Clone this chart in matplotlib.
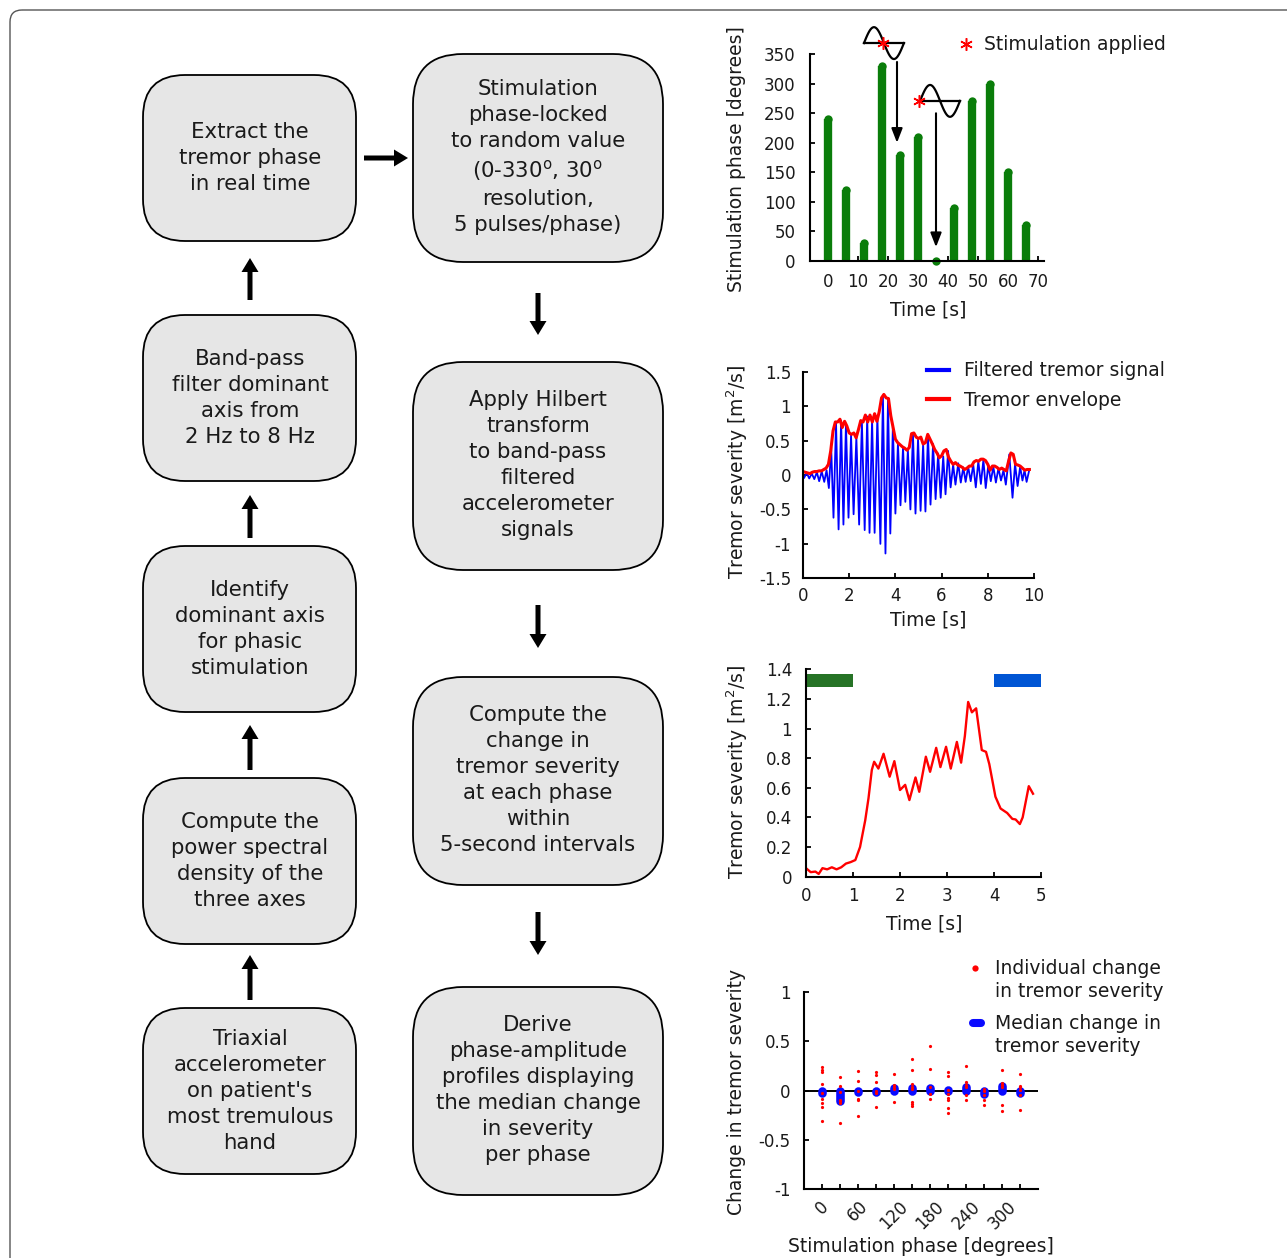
import numpy as np
import matplotlib
matplotlib.use("Agg")
import matplotlib.pyplot as plt
import matplotlib.transforms as mtransforms
from matplotlib.patches import FancyBboxPatch, FancyArrow
from matplotlib.lines import Line2D

W, H = 1287, 1258

# ---------------- data ----------------
# panel 1: stimulation phase over time
stim_time = [0, 6, 12, 18, 24, 30, 36, 42, 48, 54, 60, 66]
stim_phase = [240, 120, 30, 330, 180, 210, 0, 90, 270, 300, 150, 60]
p1_xticks = [0, 10, 20, 30, 40, 50, 60, 70]
p1_yticks = [0, 50, 100, 150, 200, 250, 300, 350]

# panel 2: filtered tremor signal and envelope
env_time = [i / 10 for i in range(99)]
env_value = [0.05, 0.04, 0.03, 0.02, 0.04, 0.05, 0.05, 0.06, 0.06, 0.08,
             0.10, 0.155, 0.35, 0.64, 0.77, 0.77, 0.81, 0.69, 0.78, 0.71,
             0.61, 0.59, 0.61, 0.54, 0.66, 0.79, 0.77, 0.87, 0.77, 0.87,
             0.77, 0.89, 0.78, 0.92, 1.12, 1.17, 1.12, 1.11, 0.86, 0.69,
             0.52, 0.47, 0.44, 0.41, 0.39, 0.36, 0.40, 0.60, 0.61, 0.55,
             0.53, 0.55, 0.45, 0.47, 0.59, 0.52, 0.45, 0.37, 0.32, 0.25,
             0.28, 0.35, 0.37, 0.26, 0.20, 0.155, 0.18, 0.145, 0.13, 0.11,
             0.08, 0.10, 0.13, 0.13, 0.19, 0.21, 0.20, 0.23, 0.23, 0.21,
             0.155, 0.07, 0.13, 0.13, 0.11, 0.08, 0.10, 0.08, 0.06, 0.20,
             0.32, 0.30, 0.155, 0.145, 0.13, 0.10, 0.07, 0.08, 0.08]
trough_time = [0.05, 0.27, 0.49, 0.70, 0.92, 1.12, 1.32, 1.54, 1.75, 1.97,
               2.19, 2.43, 2.67, 2.88, 3.10, 3.35, 3.57, 3.78, 4.00, 4.22,
               4.43, 4.65, 4.87, 5.09, 5.30, 5.52, 5.74, 5.96, 6.17, 6.39,
               6.60, 6.83, 7.04, 7.26, 7.48, 7.70, 7.91, 8.13, 8.35, 8.57,
               8.78, 9.07, 9.29, 9.50, 9.68]
trough_value = [-0.04, -0.05, -0.06, -0.09, -0.10, -0.19, -0.62, -0.79, -0.72, -0.62,
                -0.57, -0.72, -0.80, -0.84, -0.84, -1.00, -1.14, -0.85, -0.56, -0.44,
                -0.39, -0.50, -0.56, -0.52, -0.53, -0.43, -0.35, -0.33, -0.28, -0.18,
                -0.14, -0.11, -0.10, -0.09, -0.18, -0.13, -0.19, -0.09, -0.11, -0.08,
                -0.14, -0.33, -0.16, -0.08, -0.10]
peak_time = [0.16, 0.38, 0.60, 0.81, 1.02, 1.22, 1.43, 1.65, 1.86, 2.08,
             2.31, 2.55, 2.78, 2.99, 3.22, 3.46, 3.68, 3.89, 4.11, 4.33,
             4.54, 4.76, 4.98, 5.20, 5.41, 5.63, 5.85, 6.07, 6.28, 6.50,
             6.72, 6.94, 7.15, 7.37, 7.59, 7.81, 8.02, 8.24, 8.46, 8.68,
             8.93, 9.18, 9.40, 9.59, 9.80]
peak_value = [0.03, 0.02, 0.04, 0.05, 0.07, 0.40, 0.76, 0.79, 0.74, 0.58,
              0.55, 0.77, 0.85, 0.80, 0.86, 1.15, 1.10, 0.70, 0.46, 0.40,
              0.36, 0.59, 0.53, 0.45, 0.57, 0.45, 0.31, 0.27, 0.35, 0.15,
              0.17, 0.11, 0.12, 0.15, 0.20, 0.22, 0.14, 0.12, 0.10, 0.07,
              0.30, 0.16, 0.12, 0.07, 0.08]
p2_xticks = [0, 2, 4, 6, 8, 10]
p2_yticks = [-1.5, -1, -0.5, 0, 0.5, 1, 1.5]
p2_ylabels = ['-1.5', '-1', '-0.5', '0', '0.5', '1', '1.5']

# panel 3: tremor severity over 5 s
sev_time = [0.0, 0.1, 0.2, 0.27, 0.35, 0.45, 0.55, 0.65, 0.75, 0.85,
            0.95, 1.05, 1.15, 1.26, 1.33, 1.40, 1.45, 1.54, 1.65, 1.78,
            1.88, 2.0, 2.11, 2.2, 2.33, 2.41, 2.55, 2.64, 2.77, 2.86,
            2.98, 3.08, 3.21, 3.3, 3.38, 3.45, 3.53, 3.62, 3.74, 3.83,
            3.9, 4.03, 4.14, 4.28, 4.39, 4.46, 4.55, 4.61, 4.74, 4.83]
sev_value = [0.057, 0.03, 0.034, 0.018, 0.057, 0.049, 0.063, 0.049, 0.063, 0.088,
             0.098, 0.112, 0.2, 0.38, 0.53, 0.72, 0.776, 0.73, 0.83, 0.675,
             0.78, 0.585, 0.62, 0.517, 0.67, 0.573, 0.81, 0.708, 0.87, 0.74,
             0.877, 0.73, 0.91, 0.77, 0.95, 1.18, 1.11, 1.137, 0.855, 0.843,
             0.76, 0.54, 0.46, 0.43, 0.39, 0.386, 0.355, 0.40, 0.611, 0.56]
window_start = [0, 4]
window_len = [1, 1]
p3_xticks = [0, 1, 2, 3, 4, 5]
p3_yticks = [0, 0.2, 0.4, 0.6, 0.8, 1.0, 1.2, 1.4]
p3_ylabels = ['0', '0.2', '0.4', '0.6', '0.8', '1', '1.2', '1.4']

# panel 4: phase-amplitude profile
phases = [0, 30, 60, 90, 120, 150, 180, 210, 240, 270, 300, 330]
phase_labels = ['0', '', '60', '', '120', '', '180', '', '240', '', '300', '']
indiv_change = [
    [0.237, 0.203, 0.183, 0.068, -0.027, -0.085, -0.129, -0.163, -0.305],
    [0.132, 0.047, -0.02, -0.095, -0.11, -0.129, -0.325],
    [0.196, 0.098, 0.0, -0.085, -0.10, -0.257],
    [0.183, 0.155, 0.088, -0.01, -0.027, -0.169],
    [0.169, 0.058, 0.04, 0.014, -0.118],
    [0.32, 0.206, 0.064, 0.04, 0.017, -0.115, -0.136, -0.156],
    [0.447, 0.213, 0.034, -0.037, -0.091],
    [0.183, 0.142, 0.007, -0.034, -0.078, -0.095, -0.179, -0.223],
    [0.244, 0.081, 0.058, 0.034, -0.05, -0.10],
    [0.014, -0.01, -0.044, -0.095, -0.146],
    [0.21, 0.074, 0.058, 0.034, -0.146, -0.206],
    [0.166, 0.047, 0.034, 0.007, -0.05, -0.196],
]
median_change = [-0.03, -0.11, -0.015, -0.02, 0.025, 0.03, 0.03, 0.01, 0.04, -0.04, 0.05, -0.03]
p4_yticks = [-1, -0.5, 0, 0.5, 1]
p4_ylabels = ['-1', '-0.5', '0', '0.5', '1']

# flowchart texts
left_texts = ["Extract the\ntremor phase\nin real time",
              "Band-pass\nfilter dominant\naxis from\n2 Hz to 8 Hz",
              "Identify\ndominant axis\nfor phasic\nstimulation",
              "Compute the\npower spectral\ndensity of the\nthree axes",
              "Triaxial\naccelerometer\non patient's\nmost tremulous\nhand"]
center_texts = ["Stimulation\nphase-locked\nto random value\n(0-330$^\\mathrm{o}$, 30$^\\mathrm{o}$\nresolution,\n5 pulses/phase)",
                "Apply Hilbert\ntransform\nto band-pass\nfiltered\naccelerometer\nsignals",
                "Compute the\nchange in\ntremor severity\nat each phase\nwithin\n5-second intervals",
                "Derive\nphase-amplitude\nprofiles displaying\nthe median change\nin severity\nper phase"]

# ---------------- style ----------------
plt.rcParams['font.family'] = ['DejaVu Sans']
plt.rcParams['axes.unicode_minus'] = False
TXT = '#1a1a1a'
GREEN1 = '#0a7d0a'
GREEN2 = '#267326'
BLUE2 = '#0055d4'
LAB = 13.5
TICK = 12

fig = plt.figure(figsize=(W / 100, H / 100), dpi=100)
T = mtransforms.Affine2D().scale(1 / W, -1 / H).translate(0, 1) + fig.transFigure


def rect(l, t, r, b):
    return [l / W, 1 - b / H, (r - l) / W, (b - t) / H]


# outer frame
fig.add_artist(FancyBboxPatch((10, 10), 1320, 1320, boxstyle="round,pad=0,rounding_size=12",
                              transform=T, fc='none', ec='#555555', lw=1.0, zorder=0.5))

# flowchart boxes
left_tops = [75, 315, 546, 778, 1008]
for top, txt in zip(left_tops, left_texts):
    fig.add_artist(FancyBboxPatch((143, top), 213, 166, boxstyle="round,pad=0,rounding_size=42",
                                  transform=T, fc='#e6e6e6', ec='black', lw=1.3))
    fig.text(250, top + 83, txt, transform=T, ha='center', va='center', fontsize=15.3,
             linespacing=1.37, color=TXT)

center_tops = [54, 362, 677, 987]
for top, txt in zip(center_tops, center_texts):
    fig.add_artist(FancyBboxPatch((413, top), 250, 208, boxstyle="round,pad=0,rounding_size=50",
                                  transform=T, fc='#e6e6e6', ec='black', lw=1.3))
    fig.text(538, top + 103, txt, transform=T, ha='center', va='center', fontsize=15.3,
             linespacing=1.37, color=TXT)


def arrow(x0, y0, x1, y1):
    fig.add_artist(FancyArrow(x0, y0, x1 - x0, y1 - y0, width=5, head_width=17, head_length=14,
                              length_includes_head=True, transform=T, color='black', lw=0))


for y0, y1 in [(1000, 955), (770, 725), (538, 495), (300, 258)]:
    arrow(250, y0, 250, y1)
for y0, y1 in [(293, 335), (605, 648), (912, 955)]:
    arrow(538, y0, 538, y1)
arrow(364, 158, 408, 158)


def style_axes(ax, ypad, xpad):
    for s in ['top', 'right']:
        ax.spines[s].set_visible(False)
    for s in ['left', 'bottom']:
        ax.spines[s].set_linewidth(1.5)
    ax.tick_params(direction='in', length=3.5, width=1.3, labelsize=TICK, colors='black',
                   labelcolor=TXT)
    ax.tick_params(axis='y', pad=ypad)
    ax.tick_params(axis='x', pad=xpad)


AST = (6, 2, 0)

# ---------------- panel 1 ----------------
ax1 = fig.add_axes(rect(810, 54.3, 1044, 260.7))
ax1.vlines(stim_time, 0, stim_phase, colors=GREEN1, lw=6, capstyle='butt')
ax1.plot(stim_time, stim_phase, 'o', color=GREEN1, ms=6, mew=0, clip_on=False)
ax1.set_xlim(-6, 72)
ax1.set_ylim(0, 350)
ax1.set_xticks(p1_xticks)
ax1.set_yticks(p1_yticks)
style_axes(ax1, 10.5, 8.5)
ax1.set_ylabel('Stimulation phase [degrees]', fontsize=LAB, va='center', color=TXT)
ax1.yaxis.set_label_coords(737, 159, transform=T)
ax1.set_xlabel('Time [s]', fontsize=LAB, va='center', color=TXT)
ax1.xaxis.set_label_coords(928, 310, transform=T)

# sine icons with stimulation asterisks
xs = np.linspace(0, 1, 80)
for x0, base, ast_x in [(12, 369, 18.4), (30.7, 271, 30.3)]:
    ax1.plot(x0 + 13.3 * xs, base + 27 * np.sin(2 * np.pi * xs), color='black', lw=1.6, clip_on=False)
    ax1.plot([x0, x0 + 13.3], [base, base], color='black', lw=1.6, clip_on=False)
    ax1.plot([ast_x], [base], marker=AST, color='red', ms=9, mew=1.1, ls='none', clip_on=False)
for x, y0, y1 in [(23, 337, 200), (36, 250, 23)]:
    ax1.annotate('', xy=(x, y1), xytext=(x, y0), annotation_clip=False,
                 arrowprops=dict(arrowstyle='-|>,head_length=0.85,head_width=0.33', lw=1.5,
                                 color='black', shrinkA=0, shrinkB=0, mutation_scale=10))
h1 = Line2D([], [], marker=AST, color='red', ms=9, mew=1.1, ls='none')
ax1.legend([h1], ['Stimulation applied'], loc='center left', bbox_to_anchor=(956.7, 45),
           bbox_transform=T, frameon=False, fontsize=LAB, borderpad=0, borderaxespad=0,
           handlelength=1.0, handletextpad=0.47, labelcolor=TXT)

# ---------------- panel 2 ----------------
ax2 = fig.add_axes(rect(803, 371.7, 1034, 578.3))
sig_t = np.ravel(np.column_stack([trough_time, peak_time]))
sig_v = np.ravel(np.column_stack([trough_value, peak_value]))
ax2.plot(sig_t, sig_v, color='#0000ff', lw=1.3)
ax2.plot(env_time, env_value, color='#ff0000', lw=2.2)
ax2.set_xlim(0, 10)
ax2.set_ylim(-1.5, 1.5)
ax2.set_xticks(p2_xticks)
ax2.set_yticks(p2_yticks, labels=p2_ylabels)
style_axes(ax2, 8.5, 6)
ax2.set_ylabel('Tremor severity [m$^2$/s]', fontsize=LAB, va='center', color=TXT)
ax2.yaxis.set_label_coords(737, 472, transform=T)
ax2.set_xlabel('Time [s]', fontsize=LAB, va='center', color=TXT)
ax2.xaxis.set_label_coords(928, 620, transform=T)
hb = Line2D([], [], color='#0000ff', lw=3)
hr = Line2D([], [], color='#ff0000', lw=3)
ax2.legend([hb, hr], ['Filtered tremor signal', 'Tremor envelope'], loc='center left',
           bbox_to_anchor=(926.7, 385.7), bbox_transform=T, frameon=False, fontsize=LAB,
           borderpad=0, borderaxespad=0, handlelength=1.2, handletextpad=0.8,
           labelspacing=0.56, labelcolor=TXT)

# ---------------- panel 3 ----------------
ax3 = fig.add_axes(rect(806, 669.4, 1041, 876.6))
ax3.plot(sev_time, sev_value, color='#ff0000', lw=1.7)
ax3.barh([1.325, 1.325], window_len, left=window_start, height=0.088,
         color=[GREEN2, BLUE2], clip_on=False)
ax3.set_xlim(0, 5)
ax3.set_ylim(0, 1.4)
ax3.set_xticks(p3_xticks)
ax3.set_yticks(p3_yticks, labels=p3_ylabels)
style_axes(ax3, 10, 7.5)
ax3.set_ylabel('Tremor severity [m$^2$/s]', fontsize=LAB, va='center', color=TXT)
ax3.yaxis.set_label_coords(737.5, 772, transform=T)
ax3.set_xlabel('Time [s]', fontsize=LAB, va='center', color=TXT)
ax3.xaxis.set_label_coords(924.7, 924, transform=T)

# ---------------- panel 4 ----------------
ax4 = fig.add_axes(rect(804, 991.7, 1038.3, 1189.3))
ax4.axhline(0, color='black', lw=1.4, zorder=1)
ax4.vlines(phases, 0, median_change, colors='#0a0aff', lw=6.2, capstyle='round', zorder=2)
for ph, vals in zip(phases, indiv_change):
    ax4.plot([ph] * len(vals), vals, 'o', color='#ff0000', ms=2.3, mew=0, ls='none', zorder=3)
ax4.set_xlim(-30, 360)
ax4.set_ylim(-1, 1)
ax4.set_xticks(phases, labels=phase_labels, rotation=45)
ax4.set_yticks(p4_yticks, labels=p4_ylabels)
style_axes(ax4, 9.5, 6)
ax4.set_ylabel('Change in tremor severity', fontsize=LAB, va='center', color=TXT)
ax4.yaxis.set_label_coords(737, 1091.5, transform=T)
ax4.set_xlabel('Stimulation phase [degrees]', fontsize=LAB, va='center', color=TXT)
ax4.xaxis.set_label_coords(920.7, 1246, transform=T)

# legend for panel 4
fig.add_artist(Line2D([975], [968], marker='o', color='#ff0000', ms=4.5, mew=0, ls='none', transform=T))
fig.text(995, 980, 'Individual change\nin tremor severity', transform=T, ha='left', va='center',
         fontsize=LAB, linespacing=1.3, color=TXT)
fig.add_artist(Line2D([973, 981], [1023, 1023], color='#0a0aff', lw=5.8, solid_capstyle='round',
                      transform=T))
fig.text(995, 1035, 'Median change in\ntremor severity', transform=T, ha='left', va='center',
         fontsize=LAB, linespacing=1.3, color=TXT)

fig.savefig('out.png', dpi=100)
